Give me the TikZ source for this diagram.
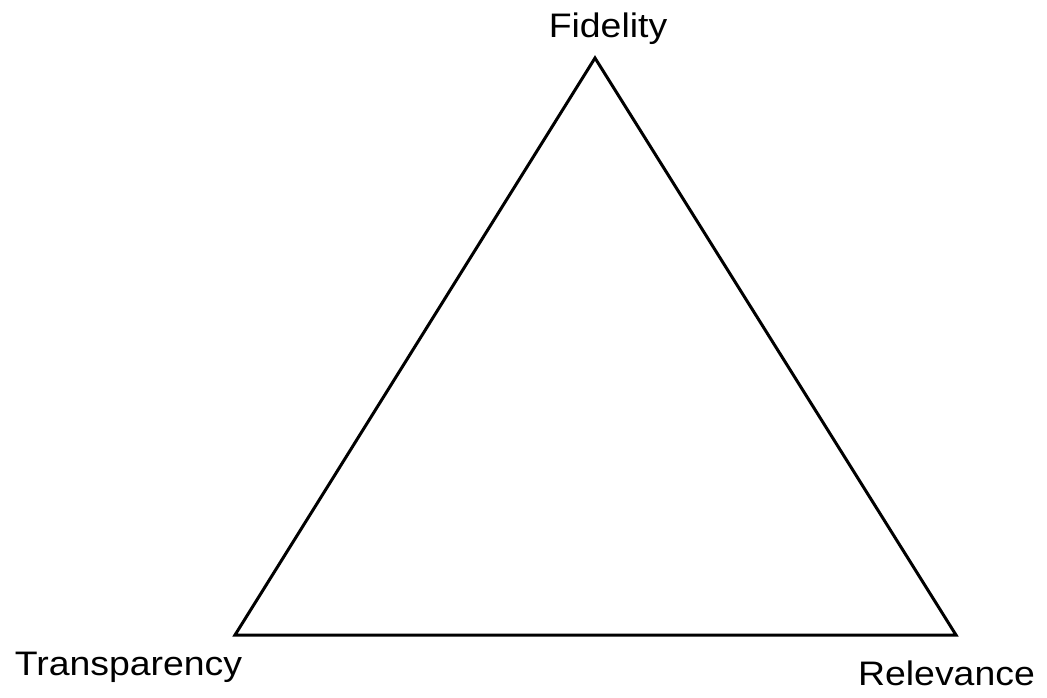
\documentclass[tikz,border=0pt]{standalone}
\usepackage{fontspec}
\setmainfont{Liberation Sans}
\begin{document}
\begin{tikzpicture}[x=1pt,y=-1pt,
  lbl/.style={inner sep=0pt,anchor=base,font=\fontsize{34}{40}\selectfont,xscale=1.1},
  edge/.style={draw=black,line width=3pt,line join=miter}]
\useasboundingbox (0,0) rectangle (1047,698);
\coordinate (F) at (595,58);
\coordinate (T) at (235,635);
\coordinate (R) at (956,635);
\node[lbl] (fid) at (608,38) {Fidelity};
\node[lbl] (tra) at (128.5,675) {Transparency};
\node[lbl] (rel) at (946.5,685) {Relevance};
\draw[edge] (F) -- (R) -- (T) -- cycle;
\end{tikzpicture}
\end{document}
